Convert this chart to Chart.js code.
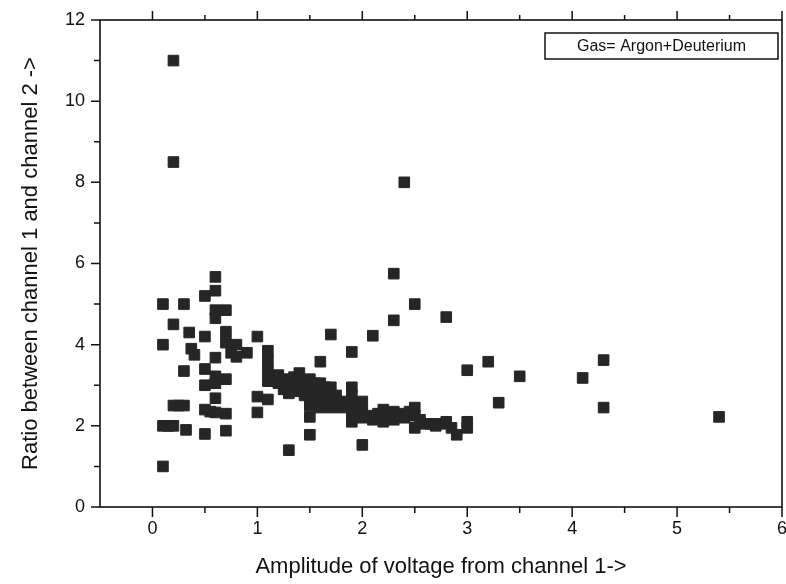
<!DOCTYPE html>
<html>
<head>
<meta charset="utf-8">
<script src="https://cdn.jsdelivr.net/npm/chart.js@4"></script>
<style>
  html, body { margin: 0; padding: 0; background: #fff; overflow: hidden; }
  #wrap { width: 786px; height: 584px; overflow: hidden; position: relative; }
  #box { width: 800px; height: 584px; position: absolute; left: 0; top: 0; }
</style>
</head>
<body>
<div id="wrap"><div id="box"><canvas id="c"></canvas></div></div>
<script>
// ---- data ----
const xValues = [
  0.1, 0.1, 0.1, 0.1, 0.15, 0.2, 0.2, 0.2, 0.25, 0.3, 0.3, 0.3, 0.32, 0.35, 0.37, 0.4, 0.2, 0.2,
  0.5, 0.5, 0.5, 0.5, 0.5, 0.5, 0.55,
  0.6, 0.6, 0.6, 0.6, 0.6, 0.6, 0.6, 0.6, 0.6,
  0.7, 0.7, 0.7, 0.7, 0.7, 0.7, 0.75, 0.8, 0.8, 0.9,
  1.0, 1.0, 1.0,
  1.1, 1.1, 1.1, 1.1, 1.1, 1.15,
  1.2, 1.2, 1.25, 1.25, 1.3, 1.3, 1.3, 1.35, 1.35,
  1.4, 1.4, 1.4, 1.45, 1.45,
  1.5, 1.5, 1.5, 1.5, 1.5, 1.5, 1.55, 1.55,
  1.6, 1.6, 1.6, 1.6, 1.6, 1.65, 1.65,
  1.7, 1.7, 1.7, 1.7, 1.75, 1.75,
  1.8, 1.8, 1.85,
  1.9, 1.9, 1.9, 1.9, 1.9, 1.9, 1.95,
  2.0, 2.0, 2.0, 2.0, 2.05,
  2.1, 2.1, 2.15,
  2.2, 2.2, 2.25,
  2.3, 2.3, 2.3, 2.3, 2.35,
  2.4, 2.4, 2.4, 2.45,
  2.5, 2.5, 2.5, 2.5, 2.55,
  2.6, 2.65, 2.7, 2.75, 2.8, 2.8, 2.85, 2.9,
  3.0, 3.0, 3.0,
  3.2, 3.3, 3.5, 4.1, 4.3, 4.3, 5.4
];
const yValues = [
  5.0, 4.0, 1.0, 2.0, 2.0, 2.0, 4.5, 2.5, 2.5, 2.5, 5.0, 3.35, 1.9, 4.3, 3.9, 3.75, 11.0, 8.5,
  5.2, 4.2, 3.4, 3.0, 2.4, 1.8, 2.35,
  5.67, 5.33, 4.85, 4.65, 3.68, 3.22, 3.05, 2.68, 2.33,
  4.85, 4.32, 4.05, 3.15, 2.3, 1.88, 3.8, 4.0, 3.7, 3.8,
  4.2, 2.72, 2.33,
  3.85, 3.6, 3.35, 3.1, 2.65, 3.2,
  3.25, 3.05, 3.15, 2.9, 3.1, 2.8, 1.4, 3.2, 2.95,
  3.3, 3.1, 2.85, 3.0, 2.75,
  3.15, 2.95, 2.7, 2.5, 2.22, 1.78, 2.8, 3.05,
  3.58, 3.05, 2.85, 2.6, 2.45, 2.7, 2.95,
  4.25, 2.95, 2.7, 2.45, 2.55, 2.75,
  2.6, 2.45, 2.55,
  3.82, 2.95, 2.75, 2.5, 2.25, 2.1, 2.4,
  2.6, 2.35, 2.2, 1.53, 2.25,
  4.22, 2.15, 2.3,
  2.4, 2.1, 2.25,
  5.75, 4.6, 2.35, 2.15, 2.25,
  8.0, 2.3, 2.2, 2.35,
  5.0, 2.45, 2.25, 1.95, 2.15,
  2.05, 2.05, 2.0, 2.05, 4.68, 2.1, 1.95, 1.78,
  3.37, 2.1, 1.95,
  3.58, 2.57, 3.22, 3.18, 3.62, 2.45, 2.22
];
const seriesLabel = 'Gas= Argon+Deuterium';
const xTitle = 'Amplitude of voltage from channel 1->';
const yTitle = 'Ratio between channel 1 and channel 2 ->';
const xRange = [-0.5, 6];
const yRange = [0, 12];

const points = xValues.map((x, i) => ({ x: x, y: yValues[i] }));
const FONT = "'Liberation Sans', Arial, Helvetica, sans-serif";

// frame + major/minor tick marks, placed on the library's own scale ticks
const frameTicks = {
  id: 'frameTicks',
  afterDraw(chart) {
    const { ctx, chartArea: a, scales } = chart;
    const xs = scales.x, ys = scales.y;
    ctx.save();
    ctx.strokeStyle = '#111';
    ctx.lineWidth = 1.6;
    ctx.strokeRect(a.left, a.top, a.right - a.left, a.bottom - a.top);
    ctx.lineWidth = 1.5;
    ctx.beginPath();
    xs.ticks.forEach(t => {
      const px = xs.getPixelForValue(t.value);
      if (t.value <= xRange[0] + 1e-9) return;
      const major = Math.abs(t.value - Math.round(t.value)) < 1e-9;
      const lb = major ? 10 : 6;
      const lt = major ? 9 : 5;
      ctx.moveTo(px, a.bottom); ctx.lineTo(px, a.bottom + lb);
      ctx.moveTo(px, a.top); ctx.lineTo(px, a.top - lt);
    });
    ys.ticks.forEach(t => {
      const py = ys.getPixelForValue(t.value);
      const major = Math.round(t.value) % 2 === 0;
      const l = major ? 9 : 6;
      ctx.moveTo(a.left, py); ctx.lineTo(a.left - l, py);
    });
    ctx.stroke();

    // annotation box
    const bx = 545, by = 33, bw = 233, bh = 26;
    ctx.lineWidth = 1.5;
    ctx.strokeStyle = '#111';
    ctx.strokeRect(bx, by, bw, bh);
    ctx.fillStyle = '#111';
    ctx.font = '16px ' + FONT;
    ctx.textAlign = 'center';
    ctx.textBaseline = 'middle';
    ctx.fillText(seriesLabel, bx + bw / 2, by + bh / 2 + 1);
    ctx.restore();
  }
};

new Chart(document.getElementById('c'), {
  type: 'scatter',
  data: {
    datasets: [{
      label: seriesLabel,
      data: points,
      pointStyle: 'rect',
      pointRadius: 7.5,
      pointHoverRadius: 7.5,
      backgroundColor: '#262626',
      borderColor: '#262626',
      borderWidth: 1
    }]
  },
  options: {
    responsive: true,
    maintainAspectRatio: false,
    animation: false,
    events: [],
    layout: { padding: { top: 20, right: 18, left: 0, bottom: 0 } },
    plugins: { legend: { display: false }, tooltip: { enabled: false } },
    scales: {
      x: {
        type: 'linear',
        min: xRange[0], max: xRange[1],
        grid: { display: false },
        border: { display: false },
        ticks: {
          stepSize: 0.5,
          color: '#111',
          padding: 3,
          font: { family: FONT, size: 18 },
          maxRotation: 0,
          autoSkip: false,
          callback: v => (Math.abs(v - Math.round(v)) < 1e-9 ? String(Math.round(v)) : '')
        },
        title: {
          display: true,
          text: xTitle,
          color: '#111',
          font: { family: FONT, size: 22 },
          padding: { top: 4, bottom: 4 }
        },
        afterFit(s) { s.height = 77; }
      },
      y: {
        type: 'linear',
        min: yRange[0], max: yRange[1],
        grid: { display: false },
        border: { display: false },
        ticks: {
          stepSize: 1,
          color: '#111',
          padding: 7,
          font: { family: FONT, size: 18 },
          autoSkip: false,
          callback: v => (Math.round(v) % 2 === 0 ? String(v) : '')
        },
        title: {
          display: true,
          text: yTitle,
          color: '#111',
          font: { family: FONT, size: 22 },
          padding: { top: 18, bottom: 0 }
        },
        afterFit(s) { s.width = 100; }
      }
    }
  },
  plugins: [frameTicks]
});
</script>
</body>
</html>
